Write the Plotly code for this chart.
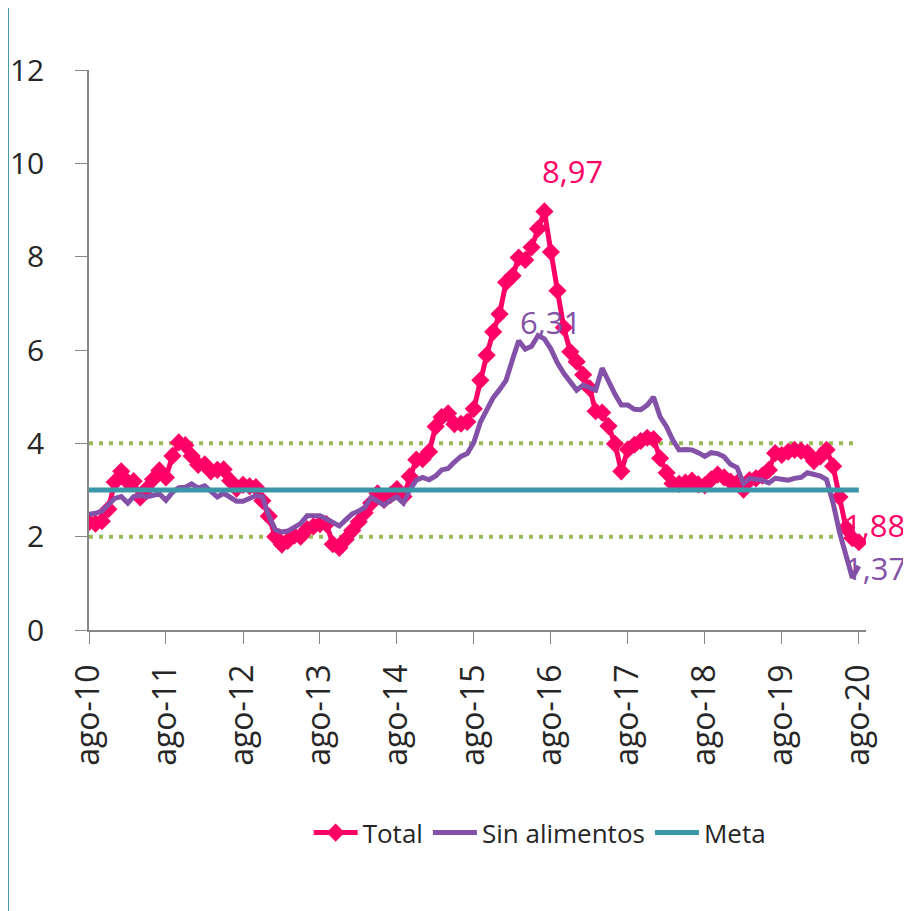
import pandas as pd
import plotly.graph_objects as go

# Inflación anual (%), ago-2010 a ago-2020
meses = pd.date_range("2010-08-01", periods=121, freq="MS")

total = [
    2.31, 2.28, 2.33, 2.59, 3.17,
    3.40, 3.17, 3.19, 2.84, 3.02, 3.23, 3.42, 3.27, 3.73, 4.02, 3.96, 3.73,
    3.54, 3.55, 3.40, 3.43, 3.44, 3.20, 3.03, 3.11, 3.08, 3.06, 2.77, 2.44,
    2.00, 1.83, 1.91, 2.02, 2.00, 2.16, 2.22, 2.27, 2.27, 1.84, 1.76, 1.94,
    2.13, 2.32, 2.51, 2.72, 2.93, 2.79, 2.89, 3.02, 2.86, 3.29, 3.65, 3.66,
    3.82, 4.36, 4.56, 4.64, 4.41, 4.42, 4.46, 4.74, 5.35, 5.89, 6.39, 6.77,
    7.45, 7.59, 7.98, 7.93, 8.20, 8.60, 8.97, 8.10, 7.27, 6.48, 5.96, 5.75,
    5.47, 5.18, 4.69, 4.66, 4.37, 3.99, 3.40, 3.87, 3.97, 4.05, 4.12, 4.09,
    3.68, 3.37, 3.14, 3.13, 3.16, 3.20, 3.12, 3.10, 3.23, 3.33, 3.27, 3.18,
    3.15, 3.01, 3.21, 3.25, 3.31, 3.43, 3.79, 3.75, 3.82, 3.86, 3.84, 3.80,
    3.62, 3.72, 3.86, 3.51, 2.85, 2.19, 1.97, 1.88,
]

sin_alimentos = [
    2.48, 2.50, 2.55, 2.68, 2.82,
    2.86, 2.72, 2.86, 2.88, 2.85, 2.90, 2.92, 2.78, 2.95, 3.05, 3.06, 3.13,
    3.04, 3.09, 2.97, 2.85, 2.93, 2.84, 2.76, 2.76, 2.82, 2.88, 2.85, 2.45,
    2.15, 2.10, 2.12, 2.20, 2.28, 2.45, 2.46, 2.45, 2.38, 2.32, 2.23, 2.36,
    2.49, 2.55, 2.62, 2.84, 2.75, 2.68, 2.78, 2.85, 2.72, 3.00, 3.21, 3.27,
    3.22, 3.30, 3.43, 3.46, 3.60, 3.72, 3.78, 4.02, 4.45, 4.72, 4.98, 5.15,
    5.35, 5.80, 6.20, 6.02, 6.08, 6.31, 6.24, 6.02, 5.72, 5.50, 5.30, 5.14,
    5.25, 5.20, 5.14, 5.61, 5.32, 5.05, 4.82, 4.82, 4.73, 4.72, 4.82, 4.99,
    4.57, 4.35, 4.08, 3.86, 3.87, 3.86, 3.80, 3.72, 3.80, 3.78, 3.71, 3.55,
    3.48, 3.14, 3.25, 3.24, 3.21, 3.15, 3.25, 3.23, 3.21, 3.25, 3.27, 3.37,
    3.33, 3.30, 3.22, 2.72, 2.10, 1.55, 1.12, 1.37,
]

meta = 3.0
rango = [2.0, 4.0]

etiquetas_x = ["ago-10", "ago-11", "ago-12", "ago-13", "ago-14", "ago-15",
               "ago-16", "ago-17", "ago-18", "ago-19", "ago-20"]

ROSA = "#FF0066"
MORADO = "#8352A8"
TEAL = "#3A97A8"
VERDE = "#9BBB59"
FUENTE = "Open Sans"

fig = go.Figure()

for nivel in rango:
    fig.add_trace(go.Scatter(
        x=meses, y=[nivel] * len(meses), mode="lines", showlegend=False,
        hoverinfo="skip", line=dict(color=VERDE, width=4, dash="4px,6px")))

fig.add_trace(go.Scatter(
    x=meses, y=total, mode="lines+markers", name="Total",
    line=dict(color=ROSA, width=5),
    marker=dict(symbol="diamond", size=14, color=ROSA)))

fig.add_trace(go.Scatter(
    x=meses, y=sin_alimentos, mode="lines", name="Sin alimentos",
    line=dict(color=MORADO, width=5)))

fig.add_trace(go.Scatter(
    x=meses, y=[meta] * len(meses), mode="lines", name="Meta",
    line=dict(color=TEAL, width=5)))

# etiquetas de datos
i_max_t = total.index(max(total))
i_max_s = sin_alimentos.index(max(sin_alimentos))
etiquetas = [
    (meses[i_max_t], total[i_max_t], f"{total[i_max_t]:.2f}".replace(".", ","), ROSA, 28, 40),
    (meses[i_max_s], sin_alimentos[i_max_s], f"{sin_alimentos[i_max_s]:.2f}".replace(".", ","), MORADO, 12, 14),
    (meses[-1], total[-1], f"{total[-1]:.2f}".replace(".", ","), ROSA, 16, 17),
    (meses[-1], sin_alimentos[-1], f"{sin_alimentos[-1]:.2f}".replace(".", ","), MORADO, 17, -2),
]
for x, y, txt, col, dx, dy in etiquetas:
    fig.add_annotation(x=x, y=y, text=txt, showarrow=False, xshift=dx, yshift=dy,
                       font=dict(family=FUENTE, size=31, color=col))

# borde izquierdo del recuadro
fig.add_shape(type="line", xref="paper", yref="paper", x0=-0.104, x1=-0.104,
              y0=-0.53, y1=1.12, line=dict(color=TEAL, width=1.5))

fig.update_layout(
    width=911, height=911,
    margin=dict(l=81, r=53, t=62, b=289),
    paper_bgcolor="white", plot_bgcolor="white",
    font=dict(family=FUENTE, size=32, color="#262626"),
    legend=dict(orientation="h", x=0.58, xanchor="center", y=-0.362, yanchor="middle",
                font=dict(size=26), traceorder="normal", itemwidth=44),
)
fig.update_xaxes(
    range=[meses[0], pd.Timestamp("2020-09-04")], tickvals=meses[::12], ticktext=etiquetas_x,
    tickangle=-90, ticks="outside", ticklen=12, tickcolor="#868686",
    showline=True, linecolor="#868686", linewidth=1.5, showgrid=False,
    zeroline=False, ticklabelstandoff=8, automargin=False)
fig.update_yaxes(
    range=[0, 12], dtick=2, ticks="outside", ticklen=12, tickcolor="#868686",
    tickfont=dict(size=30),
    showline=True, linecolor="#868686", linewidth=1.5, showgrid=False,
    zeroline=False, ticklabelstandoff=25, automargin=False)

fig.write_html("out.html")
